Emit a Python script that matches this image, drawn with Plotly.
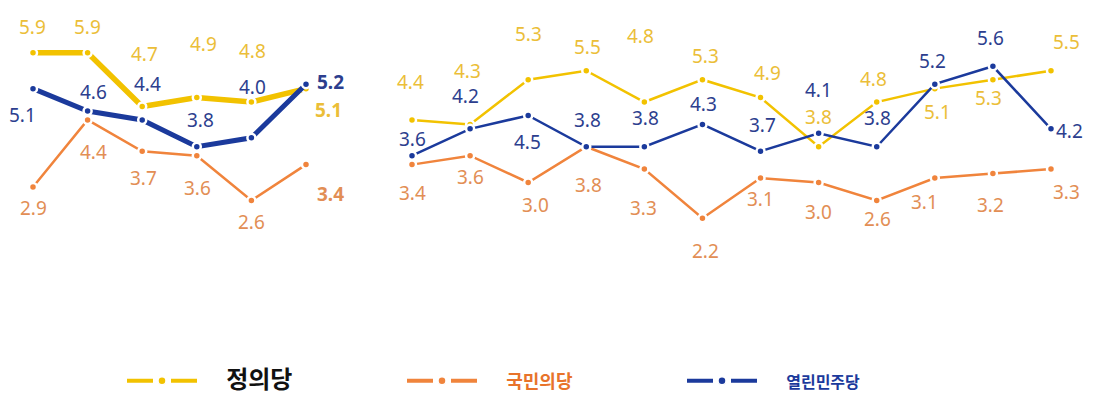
import plotly.graph_objects as go

# ---------------- data ----------------
parties = ["정의당", "국민의당", "열린민주당"]

left_yellow = [5.9, 5.9, 4.7, 4.9, 4.8, 5.1]
left_orange = [2.9, 4.4, 3.7, 3.6, 2.6, 3.4]
left_blue = [5.1, 4.6, 4.4, 3.8, 4.0, 5.2]

right_yellow = [4.4, 4.3, 5.3, 5.5, 4.8, 5.3, 4.9, 3.8, 4.8, 5.1, 5.3, 5.5]
right_orange = [3.4, 3.6, 3.0, 3.8, 3.3, 2.2, 3.1, 3.0, 2.6, 3.1, 3.2, 3.3]
right_blue = [3.6, 4.2, 4.5, 3.8, 3.8, 4.3, 3.7, 4.1, 3.8, 5.2, 5.6, 4.2]

# ---------------- style ----------------
LINE = {"yellow": "#F2C200", "orange": "#F0843C", "blue": "#1B3A9C"}
TEXT = {"yellow": "#EBBE38", "orange": "#E28E55", "blue": "#2C3E8E"}

# label offsets in pixels (dx right, dy down) from each point
off_left = {
    "yellow": [(-1, -26), (0, -26), (2, -53), (7, -54), (1, -51), (22, 21)],
    "blue": [(-11, 26), (6, -19), (5, -36), (4, -27), (1, -51), (24, -2)],
    "orange": [(0, 21), (6, 32), (1, 27), (1, 32), (0, 22), (24, 29)],
}
off_right = {
    "yellow": [(-2, -38), (-3, -53), (0, -46), (1, -24), (-4, -66), (3, -24),
               (7, -25), (0, -30), (-3, -23), (3, 23), (-4, 18), (16, -29)],
    "blue": [(0, -17), (-5, -33), (-1, 27), (1, -27), (1, -29), (1, -20),
             (2, -26), (0, -43), (1, -29), (-2, -23), (-2, -28), (19, 2)],
    "orange": [(0, 28), (0, 21), (7, 22), (2, 38), (-1, 39), (3, 33),
               (0, 21), (0, 29), (1, 19), (-10, 24), (-2, 31), (16, 23)],
}

PAGE_W, PAGE_H = 1094, 410
BODY = 8                       # default page body margin
W, H = PAGE_W - BODY, PAGE_H - BODY
FONT = "Noto Sans"

fig = go.Figure()

series_left = [("orange", left_orange, 2.5), ("yellow", left_yellow, 5.5), ("blue", left_blue, 5)]
series_right = [("orange", right_orange, 2.5), ("yellow", right_yellow, 2.5), ("blue", right_blue, 2.5)]

annotations = []

def add_panel(series, xaxis, offsets, bold_last):
    for key, vals, lw in series:
        xs = list(range(len(vals)))
        fig.add_trace(go.Scatter(
            x=xs, y=vals, mode="lines+markers", xaxis=xaxis, yaxis="y",
            line=dict(color=LINE[key], width=lw),
            marker=dict(size=8, color=LINE[key], line=dict(color="white", width=2.5)),
            showlegend=False, hoverinfo="skip",
        ))
        for i, v in enumerate(vals):
            dx, dy = offsets[key][i]
            last = bold_last and i == len(vals) - 1
            txt = f"<b>{v:.1f}</b>" if last else f"{v:.1f}"
            annotations.append(dict(
                x=i, y=v, xref=xaxis, yref="y", text=txt, showarrow=False,
                xshift=dx, yshift=-dy, xanchor="center", yanchor="middle",
                font=dict(family=FONT, size=19, color=TEXT[key]),
            ))

add_panel(series_left, "x", off_left, True)
add_panel(series_right, "x2", off_right, False)

# legend entries
NB = "\u00a0"
leg_keys = ["yellow", "orange", "blue"]
leg_names = [
    NB * 6 + "<b><span style='font-size:24px;color:#111111'>" + parties[0] + "</span></b>",
    NB * 6 + "<b><span style='font-size:18px;color:#E8732A'>" + parties[1] + "</span></b>",
    NB * 6 + "<b><span style='font-size:16px;color:#1B3A9C'>" + parties[2] + "</span></b>",
]
for key, name in zip(leg_keys, leg_names):
    fig.add_trace(go.Scatter(
        x=[None], y=[None], mode="lines+markers", name=name,
        line=dict(color=LINE[key], width=4, dash="26px,18px"),
        marker=dict(size=8, color=LINE[key], line=dict(color="white", width=1.5)),
        hoverinfo="skip",
    ))

# axes geometry (page pixel positions of first points / spacing)
left_px0, left_step = 33 - BODY, 54.6
right_px0, right_step = 412 - BODY, 58.09
split = 377 - BODY
y_zero_px, y_step = 316.6 - BODY, 44.7

fig.update_layout(
    width=W, height=H,
    margin=dict(l=0, r=0, t=0, b=0, autoexpand=False),
    paper_bgcolor="white", plot_bgcolor="white",
    showlegend=True,
    legend=dict(
        orientation="h", x=114 / W, y=1 - (381 - BODY) / H, xanchor="left", yanchor="middle",
        itemwidth=70, entrywidth=195, entrywidthmode="pixels",
        font=dict(family="Noto Sans CJK KR", size=18, color="#111111"),
        bgcolor="rgba(0,0,0,0)", itemclick=False, itemdoubleclick=False,
    ),
    xaxis=dict(domain=[0, split / W],
               range=[-left_px0 / left_step, (split - left_px0) / left_step],
               visible=False, fixedrange=True),
    xaxis2=dict(domain=[split / W, 1], anchor="y",
                range=[-(right_px0 - split) / right_step, (W - right_px0) / right_step],
                visible=False, fixedrange=True),
    yaxis=dict(range=[(y_zero_px - H) / y_step, y_zero_px / y_step],
               visible=False, fixedrange=True),
    annotations=annotations,
)

fig.write_html("out.html", config={"displayModeBar": False})
